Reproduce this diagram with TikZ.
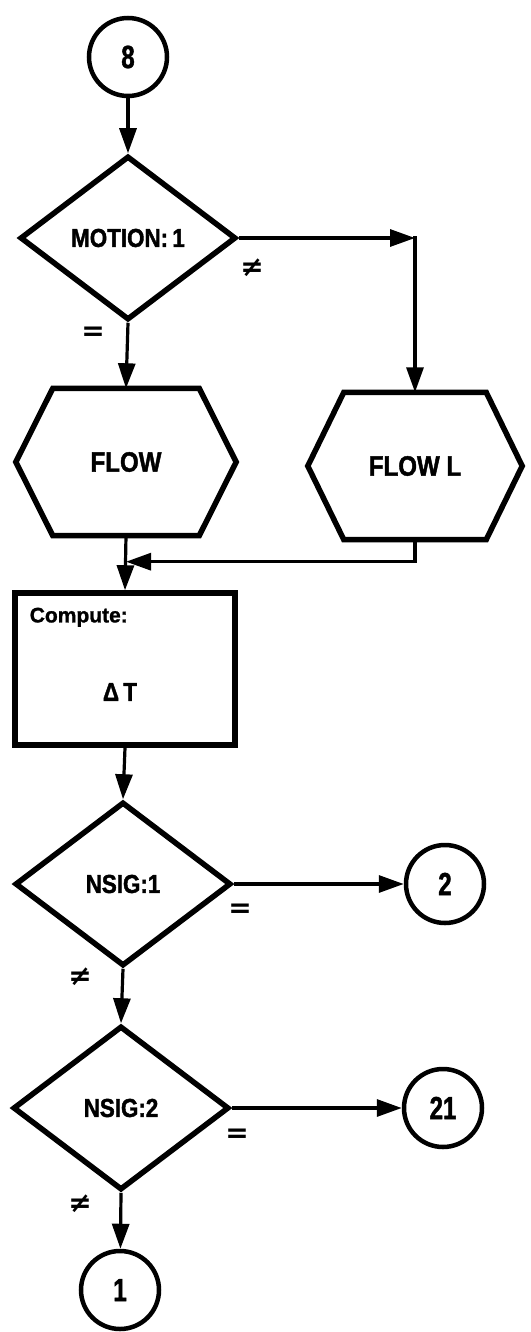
\documentclass[tikz,border=0pt]{standalone}
\usepackage{fontspec}
\setmainfont{Liberation Sans}[FakeStretch=0.86, BoldFeatures={FakeBold=1.5}]
\newfontfamily\plainfont{Liberation Sans}[BoldFeatures={FakeBold=1.2}]
\newfontfamily\digitfont{Liberation Sans}[FakeStretch=0.75, BoldFeatures={FakeBold=1.5}]
\newfontfamily\symfont{DejaVu Sans}
\usetikzlibrary{arrows.meta,shapes.geometric,calc}

\begin{document}
\begin{tikzpicture}[x=1pt,y=-1pt,
  outline/.style={draw, line width=5.5pt, line join=miter},
  decision/.style={diamond, outline, inner sep=0pt,
    minimum width=216pt, minimum height=164pt,
    font=\fontsize{26}{28}\selectfont\bfseries},
  connector/.style={circle, draw, line width=4.5pt, minimum size=78pt,
    inner sep=0pt, font=\digitfont\fontsize{32}{34}\selectfont\bfseries},
  hexbox/.style={inner sep=0pt, minimum width=#1, minimum height=147pt,
    font=\fontsize{28}{30}\selectfont\bfseries},
  flowline/.style={line width=3.2pt, -{Triangle[length=25pt,width=17pt]}},
  plainline/.style={line width=3.2pt},
  rel/.style={font=\symfont\bfseries\fontsize{28}{30}\selectfont}
]
\useasboundingbox (0,0) rectangle (530,1332);

% entry connector and first decision
\node[connector] (c8) at (128,57) {8};
\node[decision] (m) at (128,238) {MOTION:\,1};

% the two flow subroutines
\node[hexbox=220pt] (flow) at (126,462) {FLOW};
\draw[outline] ([xshift=37pt]flow.north west) -- ([xshift=-37pt]flow.north east)
  -- (flow.east) -- ([xshift=-37pt]flow.south east)
  -- ([xshift=37pt]flow.south west) -- (flow.west) -- cycle;
\node[hexbox=214pt] (flowl) at (415,466) {FLOW L};
\draw[outline] ([xshift=36pt]flowl.north west) -- ([xshift=-36pt]flowl.north east)
  -- (flowl.east) -- ([xshift=-36pt]flowl.south east)
  -- ([xshift=36pt]flowl.south west) -- (flowl.west) -- cycle;

% compute block
\node[outline, minimum width=220pt, minimum height=152pt]
  (comp) at (125,669) {};
\node[anchor=west, font=\plainfont\fontsize{21}{23}\selectfont\bfseries]
  (complabel) at ([xshift=14pt,yshift=-27pt]comp.north west) {Compute:};
\node[font=\fontsize{26}{28}\selectfont\bfseries]
  (dt) at ([xshift=-5pt,yshift=-23pt]comp.center) {Δ\,T};

% signal tests and exits
\node[decision] (n1) at (123,884) {NSIG:1};
\node[connector] (c2) at (445,884) {2};
\node[decision] (n2) at (121,1108) {NSIG:2};
\node[connector] (c21) at (443,1108) {21};
\node[connector] (c1) at (120,1290) {1};

% routing points
\coordinate (corner) at (flowl.north |- m.east);
\coordinate (j1) at ($(flowl.south)+(0,22)$);
\coordinate (j2) at (flow.south |- j1);

% connectors
\draw[flowline] (c8) -- (m.north);
\draw[flowline] (m.east) -- (corner);
\draw[flowline] ([yshift=1.6pt]corner) -- (flowl.north);
\draw[flowline] (m.south) -- (flow.north);
\draw[plainline] (flowl.south) -- (j1);
\draw[flowline] ([xshift=1.6pt]j1) -- (j2);
\draw[flowline] (flow.south) -- (comp.north);
\draw[flowline] (comp.south) -- (n1.north);
\draw[flowline] (n1.east) -- (c2);
\draw[flowline] (n1.south) -- (n2.north);
\draw[flowline] (n2.east) -- (c21);
\draw[flowline] (n2.south) -- (c1);

% branch conditions
\node[rel] (ne0) at (252,268) {≠};
\node[rel] (eq0) at (93,334) {=};
\node[rel] (eq1) at (240,911) {=};
\node[rel] (ne1) at (80,977) {≠};
\node[rel] (eq2) at (237,1136) {=};
\node[rel] (ne2) at (80,1204) {≠};
\end{tikzpicture}
\end{document}
